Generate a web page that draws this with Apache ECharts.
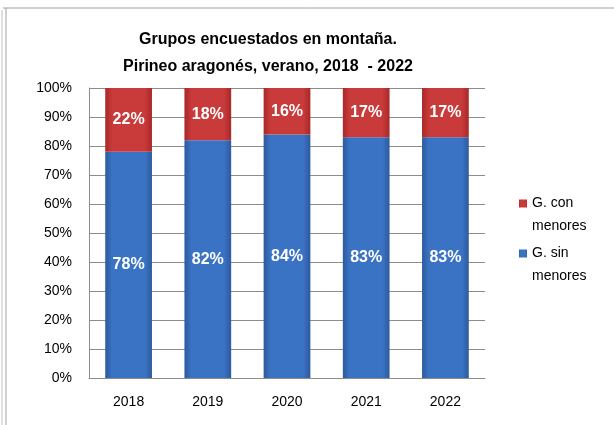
<!DOCTYPE html>
<html>
<head>
<meta charset="utf-8">
<script src="https://cdn.jsdelivr.net/npm/echarts@6/dist/echarts.min.js"></script>
<style>
  html, body { margin: 0; padding: 0; background: #fff; }
  #chart { width: 614px; height: 425px; }
</style>
</head>
<body>
<div id="chart"></div>
<script>
// datos
var years = ['2018', '2019', '2020', '2021', '2022'];
var conMenores = [22, 18, 16, 17, 17];
var sinMenores = [78, 82, 84, 83, 83];
var yTicks = [0, 10, 20, 30, 40, 50, 60, 70, 80, 90, 100];

function barGrad(edge, mid) {
    return new echarts.graphic.LinearGradient(0, 0, 1, 0, [
        { offset: 0, color: edge },
        { offset: 0.15, color: mid },
        { offset: 0.85, color: mid },
        { offset: 1, color: edge }
    ]);
}

var myChart = echarts.init(document.getElementById('chart'));
var font = 'Liberation Sans';
// cuadradito alineado con la primera linea del texto de leyenda
var legIcon = 'path://M0,0H0.01V0.01H0Z M0,7.5H8V15.5H0Z M0,45.99H0.01V46H0Z';

var option = {
    animation: false,
    title: {
        text: 'Grupos encuestados en montaña.\nPirineo aragonés, verano, 2018  - 2022',
        left: 263,
        top: 21,
        textAlign: 'center',
        textStyle: {
            fontFamily: font,
            fontWeight: 'bold',
            fontSize: 16,
            lineHeight: 27,
            color: '#000'
        }
    },
    graphic: [
        { type: 'line', shape: { x1: 3, y1: 8, x2: 614, y2: 8 }, style: { stroke: '#a0a0a0', lineWidth: 1 } },
        { type: 'line', shape: { x1: 6, y1: 8, x2: 6, y2: 425 }, style: { stroke: '#a0a0a0', lineWidth: 1 } },
        { type: 'line', shape: { x1: 2, y1: 10, x2: 2, y2: 425 }, style: { stroke: '#c0c0c0', lineWidth: 1 } }
    ],
    legend: {
        orient: 'vertical',
        left: 514,
        top: 187,
        icon: legIcon,
        itemWidth: 8,
        itemHeight: 46,
        itemGap: 4,
        data: ['G. con\nmenores', 'G. sin\nmenores'],
        textStyle: { fontFamily: font, fontSize: 14, color: '#000', lineHeight: 23 }
    },
    grid: { left: 89, right: 129, top: 88, bottom: 47 },
    xAxis: {
        type: 'category',
        data: years,
        axisTick: { show: false },
        axisLine: { lineStyle: { color: '#8c8c8c' } },
        axisLabel: { color: '#000', fontFamily: font, fontSize: 14, margin: 17 }
    },
    yAxis: {
        type: 'value',
        min: 0,
        max: 100,
        interval: 10,
        axisLine: { show: true, lineStyle: { color: '#8c8c8c' } },
        axisTick: { show: false },
        splitLine: { lineStyle: { color: '#8c8c8c' } },
        axisLabel: {
            color: '#000', fontFamily: font, fontSize: 14, margin: 17,
            formatter: function (v) { return yTicks.indexOf(v) >= 0 ? v + '%' : ''; }
        }
    },
    series: [
        {
            name: 'G. sin\nmenores',
            type: 'bar',
            stack: 'total',
            barWidth: '59%',
            data: sinMenores,
            itemStyle: { color: barGrad('#2c5a9e', '#3b73c4') },
            label: {
                show: true, position: 'inside', formatter: '{c}%',
                color: '#fff', fontFamily: font, fontWeight: 'bold', fontSize: 16
            }
        },
        {
            name: 'G. con\nmenores',
            type: 'bar',
            stack: 'total',
            data: conMenores,
            itemStyle: { color: barGrad('#a82828', '#c93a3a') },
            label: {
                show: true, position: 'inside', formatter: '{c}%',
                color: '#fff', fontFamily: font, fontWeight: 'bold', fontSize: 16
            }
        }
    ]
};
myChart.setOption(option);
</script>
</body>
</html>
